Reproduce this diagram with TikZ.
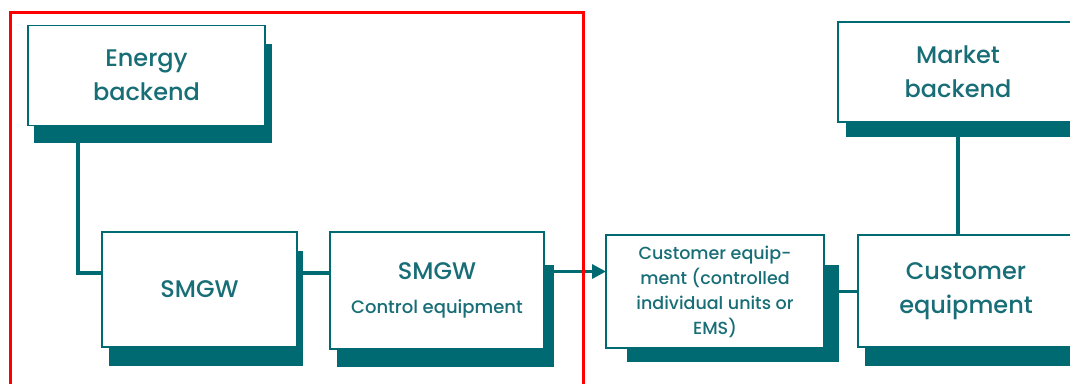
\documentclass[tikz,border=0pt]{standalone}
\usepackage{fontspec}
\setmainfont{Poppins}[UprightFont=* Medium]
\usetikzlibrary{arrows.meta,backgrounds}

\definecolor{smteal}{RGB}{0,106,115}
\definecolor{smtext}{RGB}{24,110,118}

\begin{document}
\begin{tikzpicture}[x=1pt,y=-1pt,
    unit/.style={draw=smteal, line width=1.6pt, fill=white, text=smtext,
        align=center, inner sep=0pt, outer sep=0pt},
    bigtext/.style={font=\fontsize{24}{34}\selectfont},
    smalltext/.style={font=\fontsize{17.5}{25}\selectfont},
    link/.style={draw=smteal, line width=3.2pt},
    flow/.style={link, -{Triangle[length=14pt,width=14pt]}},
    boxshade/.style={fill=smteal}]

    % Rahmen
    \useasboundingbox (0,0) rectangle (1070,383);
    \clip (0,0) rectangle (1070,383);

    % Bloecke
    \node[unit, bigtext, minimum width=237pt, minimum height=100pt] (eb) at (146.5,75.5) {Energy\\backend};
    \node[unit, bigtext, minimum width=195pt, minimum height=115pt] (smgw) at (199.5,289.5) {SMGW};
    \node[unit, bigtext, minimum width=214pt, minimum height=117pt] (ctrl) at (437,290.5)
        {SMGW\\{\fontsize{18}{25}\selectfont Control equipment}};
    \node[unit, smalltext, minimum width=218pt, minimum height=113pt] (cust) at (715,291.5)
        {Customer equip-\\ment (controlled\\individual units or\\EMS)};
    \node[unit, bigtext, minimum width=216pt, minimum height=112pt] (custbig) at (966,291) {Customer\\equipment};
    \node[unit, bigtext, minimum width=240pt, minimum height=100pt] (market) at (958,72) {Market\\backend};

    % Hilfspunkte fuer die Leitungen
    \coordinate (meterlvl) at ([yshift=16.5pt]smgw.west);
    \coordinate (arrowlvl) at ([yshift=19pt]ctrl.east);

    \begin{scope}[on background layer]
        % Leitungen
        \draw[link] ([xshift=50pt]eb.south west) |- (meterlvl);
        \draw[link] (meterlvl -| smgw.east) -- (meterlvl -| ctrl.west);
        \draw[flow] (arrowlvl) -- (arrowlvl -| cust.west);
        \draw[link] (cust.east) -- (cust.east -| custbig.west);
        \draw[link] (market.south) -- (market.south |- custbig.north);

        % Schatten: name/links/rechts/oben/unten
        \foreach \n/\dl/\dr/\dt/\db in {eb/6/7/18/17, smgw/7/6/19/19, ctrl/7/10/33/18,
            cust/21/15/30/14, custbig/7/10/18/19, market/8/10/18/15}
        {
            \fill[boxshade] ([xshift=\dl pt, yshift=-\db pt]\n.south west)
                rectangle ([xshift=\dr pt, yshift=-\dt pt]\n.north east);
        }
    \end{scope}

    % Markierung
    \draw[red, line width=3pt] (10,12) rectangle (583,400);
\end{tikzpicture}
\end{document}
